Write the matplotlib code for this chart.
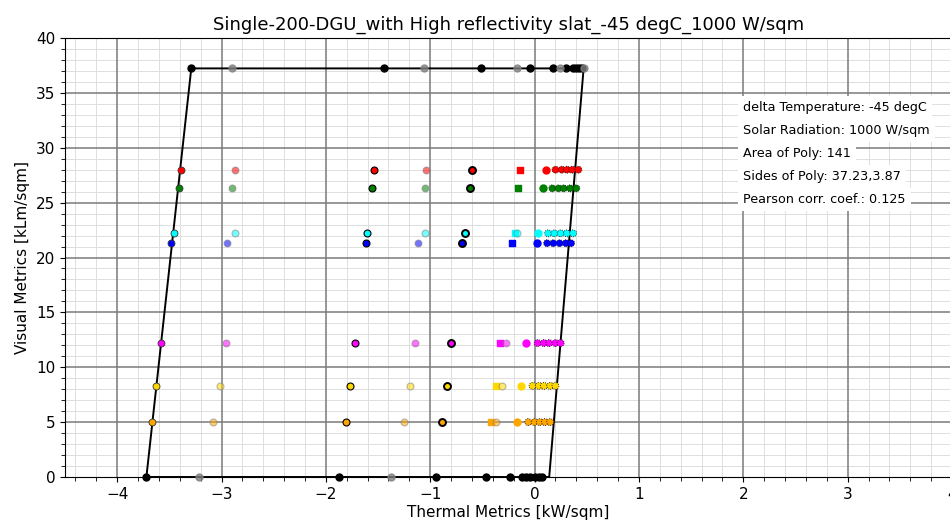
import numpy as np
import matplotlib
matplotlib.use('Agg')
import matplotlib.pyplot as plt
from matplotlib.ticker import MultipleLocator

# ── polygon (envelope) vertices ──
POLY_X = [-3.72, -3.29, 0.47, 0.14, -3.72]
POLY_Y = [0.0, 37.23, 37.23, 0.0, 0.0]

# ── coloured rows (one per visual level) ──
ROW_Y = [5.0, 8.3, 12.2, 21.3, 22.2, 26.3, 28.0]
ROW_COLORS = ['orange', 'gold', 'magenta', 'blue', 'cyan', 'green', 'red']
X_EDGE = [-3.67, -3.63, -3.58, -3.48, -3.46, -3.41, -3.39]
X_ALPHA1 = [-3.08, -3.01, -2.96, -2.95, -2.87, -2.90, -2.87]
X_MID = [-1.81, -1.77, -1.72, -1.62, -1.61, -1.56, -1.54]
X_ALPHA2 = [-1.25, -1.19, -1.15, -1.12, -1.05, -1.05, -1.04]
X_RING = [-0.89, -0.84, -0.80, -0.70, -0.67, -0.62, -0.60]
X_SQUARE = [-0.42, -0.37, -0.33, -0.22, -0.19, -0.16, -0.14]
X_SQ_ALPHA = [-0.37, -0.31, -0.27, np.nan, -0.17, np.nan, np.nan]
X_PLAIN = [-0.17, -0.13, -0.08, 0.02, 0.03, 0.08, 0.11]
X_CLUSTER = [[-0.06, 0.00, 0.05, 0.10, 0.15],
             [-0.02, 0.04, 0.09, 0.15, 0.20],
             [0.03, 0.09, 0.14, 0.20, 0.25],
             [0.12, 0.18, 0.24, 0.30, 0.35],
             [0.13, 0.19, 0.25, 0.31, 0.37],
             [0.17, 0.23, 0.28, 0.34, 0.40],
             [0.20, 0.26, 0.31, 0.36, 0.42]]

# ── black rows (bottom / top of the polygon) ──
BOT_Y = 0.0
BOT_BLACK = [-3.72, -1.87, -0.94, -0.47, -0.24, -0.12, -0.08, -0.04, 0.00, 0.04, 0.07]
BOT_GRAY = [-3.22, -1.38]
TOP_Y = 37.23
TOP_BLACK = [-3.29, -1.44, -0.51, -0.04, 0.18, 0.30, 0.37, 0.40, 0.43, 0.45]
TOP_GRAY = [-2.90, -1.06, -0.17, 0.24, 0.47]

INFO = ['delta Temperature: -45 degC',
        'Solar Radiation: 1000 W/sqm',
        'Area of Poly: 141',
        'Sides of Poly: 37.23,3.87',
        'Pearson corr. coef.: 0.125']

S = 25  # marker size
XLIM, YLIM = (-4.5, 4.0), (0, 40)

fig = plt.figure(figsize=(9.5, 5.25), dpi=100)
ax = fig.add_axes([65 / 950, 48 / 525, 887 / 950, 439 / 525])

# 그리드: minor 는 ax.grid, major 는 axvline/axhline 로 위에 (minor 가 major 를 덮지 않게)
ax.xaxis.set_major_locator(MultipleLocator(1))
ax.xaxis.set_minor_locator(MultipleLocator(0.2))
ax.yaxis.set_major_locator(MultipleLocator(5))
ax.yaxis.set_minor_locator(MultipleLocator(1))
ax.grid(True, which='minor', color='#dedede', linewidth=0.7, linestyle='-')
ax.set_axisbelow(True)
for gx in np.arange(-4, 4.5, 1):
    ax.axvline(gx, color='#7a7a7a', linewidth=1.1, zorder=1)
for gy in np.arange(5, 40, 5):
    ax.axhline(gy, color='#7a7a7a', linewidth=1.1, zorder=1)

# polygon
ax.plot(POLY_X, POLY_Y, '-', color='black', lw=1.4, zorder=3)

# coloured rows
for i, (y, c) in enumerate(zip(ROW_Y, ROW_COLORS)):
    ax.scatter([X_EDGE[i]], [y], s=S, color=c, edgecolors='#333333', linewidths=0.6, zorder=4)
    ax.scatter([X_ALPHA1[i], X_ALPHA2[i]], [y, y], s=S, color=c, alpha=0.55,
               edgecolors='gray', linewidths=0.8, zorder=4)
    ax.scatter([X_MID[i]], [y], s=S, color=c, edgecolors='black', linewidths=0.8, zorder=4)
    ax.scatter([X_RING[i]], [y], s=S, color=c, edgecolors='black', linewidths=1.4, zorder=4)
    ax.scatter([X_SQUARE[i]], [y], s=S, marker='s', color=c, zorder=4)
    ax.scatter([X_SQ_ALPHA[i]], [y], s=S, color=c, alpha=0.55,
               edgecolors='gray', linewidths=0.8, zorder=4)
    ax.scatter([X_PLAIN[i]], [y], s=S, color=c, zorder=4)
    ax.scatter(X_CLUSTER[i], [y] * len(X_CLUSTER[i]), s=S, color=c,
               edgecolors='black', linewidths=0.6, linestyles=':', zorder=4)

# black rows
for ys, xb, xg in [(BOT_Y, BOT_BLACK, BOT_GRAY), (TOP_Y, TOP_BLACK, TOP_GRAY)]:
    ax.scatter(xb, [ys] * len(xb), s=S, color='black', zorder=5, clip_on=False)
    ax.scatter(xg, [ys] * len(xg), s=S, color='gray', alpha=0.8, zorder=5, clip_on=False)

# 정보 텍스트 (줄마다 흰 박스)
for k, txt in enumerate(INFO):
    ax.text(743 / 950, 1 - (108 + k * 22.8) / 525, txt, transform=fig.transFigure,
            fontsize=9.2, ha='left', va='center',
            bbox=dict(boxstyle='square,pad=0.4', fc='white', ec='none'), zorder=6)

ax.set_xlim(*XLIM)
ax.set_ylim(*YLIM)
ax.tick_params(which='both', direction='out', labelsize=11)
ax.tick_params(which='minor', length=3)
ax.set_title('Single-200-DGU_with High reflectivity slat_-45 degC_1000 W/sqm', fontsize=13)
ax.set_xlabel('Thermal Metrics [kW/sqm]', fontsize=11, labelpad=2)
ax.set_ylabel('Visual Metrics [kLm/sqm]', fontsize=11)

fig.savefig('out.png', dpi=100)
